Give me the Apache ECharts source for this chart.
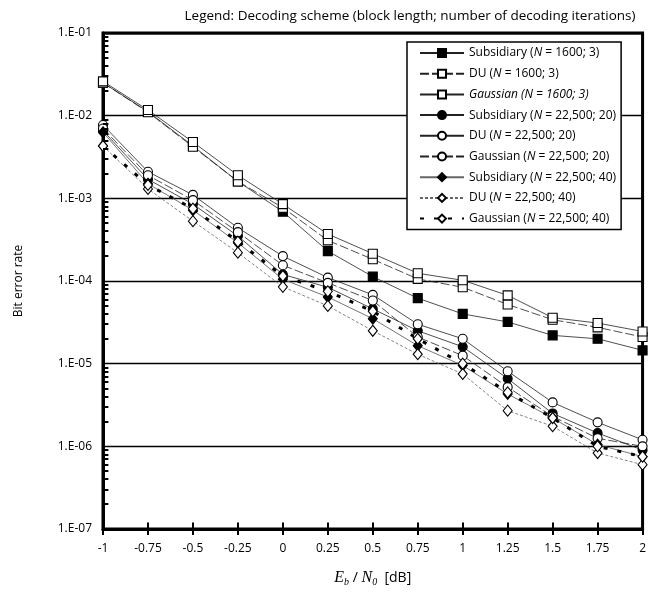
<!DOCTYPE html>
<html lang="en">
<head>
  <meta charset="UTF-8">
  <script src="https://cdn.jsdelivr.net/npm/echarts@6.0.0/dist/echarts.min.js"></script>
  <style>
    html, body { margin: 0; padding: 0; background: #fff; }
  </style>
</head>
<body>
  <div id="berChart" style="width: 649px;height:595px;"></div>

  <script type="text/javascript">

    // Eb/N0 [dB]
    var ebn0 = [-1, -0.75, -0.5, -0.25, 0, 0.25, 0.5, 0.75, 1, 1.25, 1.5, 1.75, 2];

    var sub1600   = [2.5e-2, 1.12e-2, 4.3e-3, 1.6e-3, 6.9e-4, 2.3e-4, 1.13e-4, 6.2e-5, 4.0e-5, 3.2e-5, 2.2e-5, 2.0e-5, 1.45e-5];
    var du1600    = [2.5e-2, 1.1e-2, 4.2e-3, 1.6e-3, 7.7e-4, 3.1e-4, 1.83e-4, 1.06e-4, 8.4e-5, 5.2e-5, 3.4e-5, 2.75e-5, 2.1e-5];
    var gauss1600 = [2.6e-2, 1.17e-2, 4.8e-3, 1.9e-3, 8.5e-4, 3.7e-4, 2.14e-4, 1.24e-4, 1.02e-4, 6.7e-5, 3.6e-5, 3.1e-5, 2.45e-5];
    var sub20     = [6.6e-3, 1.7e-3, 8.5e-4, 3.5e-4, 1.2e-4, 8.4e-5, 4.6e-5, 2.5e-5, 1.6e-5, 6.6e-6, 2.5e-6, 1.45e-6, 9e-7];
    var du20      = [7.7e-3, 2.1e-3, 1.1e-3, 4.4e-4, 2.0e-4, 1.1e-4, 6.8e-5, 3.0e-5, 2.0e-5, 8.1e-6, 3.4e-6, 1.95e-6, 1.2e-6];
    var gauss20   = [7.0e-3, 1.9e-3, 9.5e-4, 3.9e-4, 1.55e-4, 9.5e-5, 5.8e-5, 2.1e-5, 1.25e-5, 5.2e-6, 2.3e-6, 1.25e-6, 1.0e-6];
    var sub40     = [6.3e-3, 1.5e-3, 7.2e-4, 2.9e-4, 1.05e-4, 6.4e-5, 3.5e-5, 1.65e-5, 9.5e-6, 4.3e-6, 2.2e-6, 1.05e-6, 7.5e-7];
    var du40      = [4.3e-3, 1.3e-3, 5.3e-4, 2.2e-4, 8.5e-5, 5.0e-5, 2.5e-5, 1.3e-5, 7.5e-6, 2.7e-6, 1.75e-6, 8.3e-7, 6.0e-7];
    var gauss40   = [4.3e-3, 1.45e-3, 7.5e-4, 3.0e-4, 1.15e-4, 7.5e-5, 4.3e-5, 2.0e-5, 1.0e-5, 4.5e-6, 2.2e-6, 1.0e-6, 7.5e-7];

    // minor ticks on the log axis (2..9 in each decade)
    var minorTicks = [];
    for (var dec = -7; dec <= -2; dec++) {
      for (var k = 2; k <= 9; k++) minorTicks.push(k * Math.pow(10, dec));
    }

    var FONT = 'Open Sans';

    function pairs(ys) {
      return ebn0.map(function (x, i) { return [x, ys[i]]; });
    }

    function makeSeries(name, ys, symbol, filled, line) {
      return {
        name: name,
        type: 'line',
        data: pairs(ys),
        symbol: symbol,
        symbolSize: symbol === 'diamond' ? [9, 11] : 9,
        showAllSymbol: true,
        z: 3,
        itemStyle: {
          color: filled ? '#000' : '#fff',
          borderColor: '#000',
          borderWidth: 1.1
        },
        lineStyle: line,
        emphasis: { disabled: true }
      };
    }

    var thin = { color: '#222', width: 0.8, type: 'solid' };
    var thinDash = { color: '#222', width: 0.8, type: [9, 3] };
    var grey = { color: '#666', width: 0.9, type: 'solid' };
    var greyDash = { color: '#666', width: 0.8, type: [3, 2] };
    var boldDash = { color: '#000', width: 3, type: [4, 10] };

    var names = [
      'Subsidiary (N = 1600; 3)',
      'DU (N = 1600; 3)',
      'Gaussian (N = 1600; 3)',
      'Subsidiary (N = 22,500; 20)',
      'DU (N = 22,500; 20)',
      'Gaussian (N = 22,500; 20)',
      'Subsidiary (N = 22,500; 40)',
      'DU (N = 22,500; 40)',
      'Gaussian (N = 22,500; 40)'
    ];

    function legendText(name) {
      var m = name.match(/^(\w+) \(N(.*)\)$/);
      if (!m) return name;
      if (name.indexOf('Gaussian') === 0 && name.indexOf('1600') > 0) {
        return '{it|' + m[1] + ' (N' + m[2] + ')}';
      }
      return '{a|' + m[1] + ' (}{it|N}{a|' + m[2] + ')}';
    }

    // short tick segments as markLines, in data coordinates
    var tickLines = minorTicks.map(function (v) {
      return [{ coord: [-1, v] }, { coord: [-0.97, v] }];
    }).concat(ebn0.map(function (x) {
      return [{ coord: [x, 1e-7] }, { coord: [x, 1.2e-7] }];
    }));

    var chart = echarts.init(document.getElementById('berChart'));

    var series = [
      makeSeries(names[0], sub1600, 'rect', true, thin),
      makeSeries(names[1], du1600, 'rect', false, thinDash),
      makeSeries(names[2], gauss1600, 'rect', false, thin),
      makeSeries(names[3], sub20, 'circle', true, thin),
      makeSeries(names[4], du20, 'circle', false, thin),
      makeSeries(names[5], gauss20, 'circle', false, thinDash),
      makeSeries(names[6], sub40, 'diamond', true, grey),
      makeSeries(names[7], du40, 'diamond', false, greyDash),
      makeSeries(names[8], gauss40, 'diamond', false, boldDash)
    ];
    series[0].markLine = {
      silent: true,
      animation: false,
      symbol: ['none', 'none'],
      label: { show: false },
      lineStyle: { color: '#000', width: 2, type: 'solid' },
      emphasis: { disabled: true },
      data: tickLines
    };

    var option = {
      backgroundColor: '#fff',
      animation: false,
      title: {
        text: 'Legend: Decoding scheme (block length; number of decoding iterations)',
        left: 405,
        textAlign: 'center',
        top: 4,
        textStyle: { fontFamily: FONT, fontSize: 13.5, fontWeight: 'normal', color: '#000' }
      },
      grid: {
        left: 103,
        right: 3,
        top: 33,
        bottom: 66,
        show: true,
        borderColor: '#000',
        borderWidth: 3,
        backgroundColor: '#fff'
      },
      legend: {
        data: names,
        left: 407,
        top: 42,
        orient: 'vertical',
        backgroundColor: '#fff',
        borderColor: '#000',
        borderWidth: 1.5,
        borderRadius: 0,
        padding: [5, 5, 5, 12],
        itemWidth: 44,
        itemHeight: 10,
        itemGap: 8.7,
        z: 10,
        formatter: legendText,
        textStyle: {
          fontFamily: FONT,
          fontSize: 12,
          color: '#000',
          rich: {
            a: { fontFamily: FONT, fontSize: 12, color: '#000' },
            it: { fontFamily: FONT, fontSize: 12, fontStyle: 'italic', color: '#000' }
          }
        }
      },
      xAxis: {
        type: 'value',
        min: -1,
        max: 2,
        interval: 0.25,
        name: '{i|E}{s|b}{a| / }{i|N}{s|0}{a|  [dB]}',
        nameLocation: 'middle',
        nameGap: 40,
        nameTextStyle: {
          rich: {
            i: { fontFamily: 'Liberation Serif', fontStyle: 'italic', fontSize: 16, color: '#000' },
            s: { fontFamily: 'Liberation Serif', fontStyle: 'italic', fontSize: 10, color: '#000', padding: [8, 0, 0, 0] },
            a: { fontFamily: FONT, fontSize: 14, color: '#000' }
          }
        },
        axisLine: { onZero: false, lineStyle: { color: '#000', width: 3 } },
        axisTick: { length: 6, lineStyle: { color: '#000', width: 2 } },
        axisLabel: { fontFamily: FONT, fontSize: 12, color: '#000', margin: 14 },
        splitLine: { show: false }
      },
      yAxis: {
        type: 'log',
        logBase: 10,
        min: 1e-7,
        max: 1e-1,
        name: 'Bit error rate',
        nameLocation: 'middle',
        nameGap: 78,
        nameTextStyle: { fontFamily: FONT, fontSize: 12, color: '#000' },
        axisLine: { onZero: false, lineStyle: { color: '#000', width: 3 } },
        axisTick: { show: false },
        axisLabel: {
          fontFamily: FONT,
          fontSize: 12,
          color: '#000',
          margin: 11,
          formatter: function (v) {
            var e = Math.round(-Math.log10(v));
            return '1.E-' + (e < 10 ? '0' : '') + e;
          }
        },
        splitLine: { show: true, lineStyle: { color: '#000', width: 1.3 } }
      },
      series: series
    };

    chart.setOption(option);
  </script>
</body>
</html>
